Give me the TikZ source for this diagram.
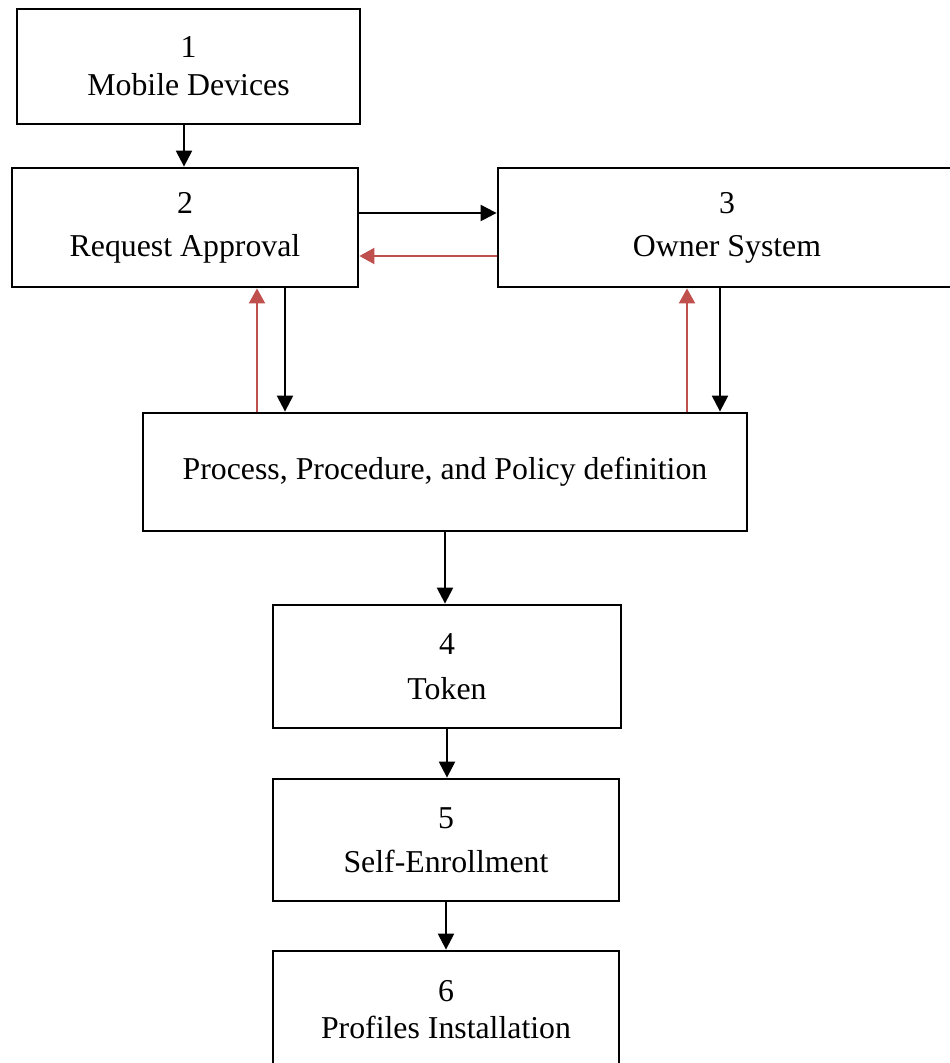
\documentclass[tikz,border=0pt]{standalone}
\usepackage{fontspec}
\setmainfont{Liberation Serif}
\usetikzlibrary{arrows.meta}
\definecolor{redarrow}{RGB}{192,80,77}
\tikzset{
  box/.style={draw=black, line width=2.8pt, fill=white, inner sep=0pt, align=center, font=\fontsize{31.8}{43}\selectfont},
  blk/.style={line width=2.3pt, black, -{Triangle[length=16pt,width=16pt]}},
  red/.style={line width=2pt, redarrow, -{Triangle[length=15pt,width=16pt]}}
}
\begin{document}
\begin{tikzpicture}[x=1pt,y=-1pt]
\useasboundingbox (0,0) rectangle (950,1063);
\clip (0,0) rectangle (950,1063);
\fill[white] (0,0) rectangle (950,1063);
\node[box, minimum width=343pt, minimum height=115pt, font=\fontsize{31.8}{38}\selectfont] (b1) at (188.5,66.5) {1\\Mobile Devices};
\node[box, minimum width=346pt, minimum height=119pt] (b2) at (185,227.5) {2\\Request Approval};
\node[box, minimum width=458pt, minimum height=119pt] (b3) at (727,227.5) {3\\Owner System};
\node[box, minimum width=604pt, minimum height=118pt] (bp) at (445,472) {Process, Procedure, and Policy definition};
\node[box, minimum width=348pt, minimum height=123pt, font=\fontsize{31.8}{45}\selectfont] (b4) at (447,666.5) {4\\Token};
\node[box, minimum width=346pt, minimum height=122pt, font=\fontsize{31.8}{44}\selectfont] (b5) at (446,840) {5\\Self-Enrollment};
\node[box, minimum width=346pt, minimum height=118pt, font=\fontsize{31.8}{37}\selectfont] (b6) at (446,1010) {6\\Profiles Installation};
\draw[blk] ([xshift=-4.5pt]b1.south) -- ([xshift=-4.5pt]b1.south |- b2.north);
\draw[blk] ([yshift=14.5pt]b2.east) -- ([yshift=14.5pt]b2.east -| b3.west);
\draw[red] ([yshift=-28.5pt]b3.west) -- ([yshift=-28.5pt]b3.west -| b2.east);
\draw[blk] ([xshift=100pt]b2.south) -- ([xshift=100pt]b2.south |- bp.north);
\draw[red] ([xshift=72pt]b2.south |- bp.north) -- ([xshift=72pt]b2.south);
\draw[blk] ([xshift=-7pt]b3.south) -- ([xshift=-7pt]b3.south |- bp.north);
\draw[red] ([xshift=-40pt]b3.south |- bp.north) -- ([xshift=-40pt]b3.south);
\draw[blk] (bp.south) -- (bp.south |- b4.north);
\draw[blk] (b4.south) -- (b4.south |- b5.north);
\draw[blk] (b5.south) -- (b5.south |- b6.north);
\end{tikzpicture}
\end{document}
